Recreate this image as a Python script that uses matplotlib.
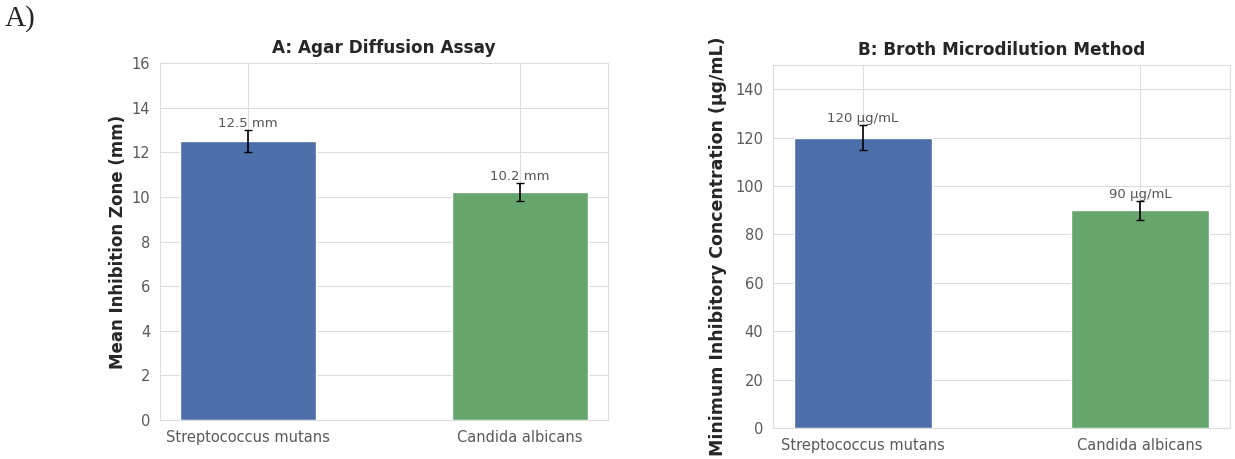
import matplotlib
matplotlib.use("Agg")
import matplotlib.pyplot as plt
import seaborn as sns

# dane
organisms = ["Streptococcus mutans", "Candida albicans"]
zone_mm = [12.5, 10.2]
zone_err = [0.5, 0.4]
mic_ugml = [120, 90]
mic_err = [5, 4]
zone_labels = ["12.5 mm", "10.2 mm"]
mic_labels = ["120 μg/mL", "90 μg/mL"]

sns.set_style("whitegrid")
plt.rcParams['font.family'] = ['DejaVu Sans']
colors = ["#4C6EA9", "#66A66D"]

fig = plt.figure(figsize=(12.35, 4.59), dpi=100)
ax1 = fig.add_axes([160 / 1235, 1 - 420 / 459, 448 / 1235, 357 / 459])
ax2 = fig.add_axes([773 / 1235, 1 - 428 / 459, 457 / 1235, 363 / 459])


def draw_panel(ax, vals, errs, labels, title, ylabel, ylim, yticks, ylsize):
    x = range(len(organisms))
    ax.bar(x, vals, width=0.5, color=colors, yerr=errs, capsize=3,
           error_kw=dict(ecolor="black", elinewidth=1.2, capthick=1))
    for i, (v, e, t) in enumerate(zip(vals, errs, labels)):
        ax.text(i, v + e, t, ha="center", va="bottom", fontsize=9.5, color="#555555")
    ax.set_xticks(list(x))
    ax.set_xticklabels(organisms, fontsize=10.5, color="#5a5a5a")
    ax.set_ylim(*ylim)
    ax.set_yticks(yticks)
    ax.tick_params(axis="y", labelsize=10.5, labelcolor="#5a5a5a")
    ax.set_title(title, fontsize=12.2, fontweight="bold", pad=7)
    ax.set_ylabel(ylabel, fontsize=ylsize, fontweight="bold", labelpad=3)
    for s in ax.spines.values():
        s.set_color("#dddddd")
    ax.grid(True, color="#dddddd")


draw_panel(ax1, zone_mm, zone_err, zone_labels, "A: Agar Diffusion Assay",
           "Mean Inhibition Zone (mm)", (0, 16), range(0, 17, 2), 12)
draw_panel(ax2, mic_ugml, mic_err, mic_labels, "B: Broth Microdilution Method",
           "Minimum Inhibitory Concentration (μg/mL)", (0, 150), range(0, 141, 20), 12.5)
ax2.yaxis.set_label_coords(-0.1, 0.5)

fig.text(0.004, 0.99, "A)", fontsize=21, family="Liberation Serif", va="top", ha="left")

fig.savefig("out.png", dpi=100)
